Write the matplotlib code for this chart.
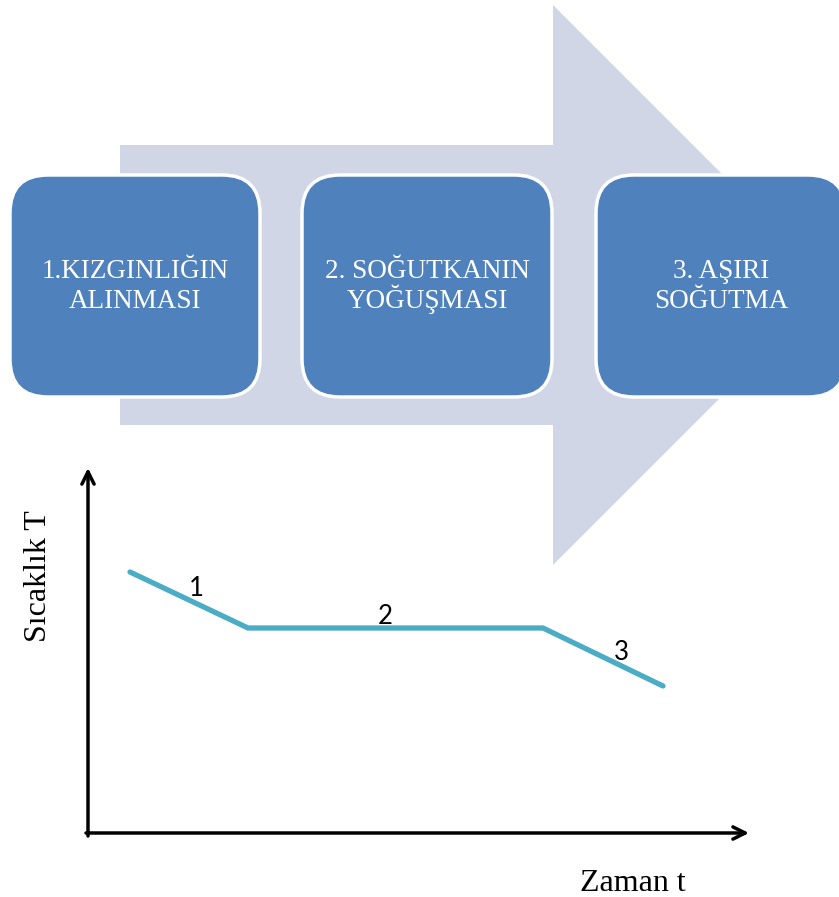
import matplotlib.pyplot as plt
from matplotlib.patches import Polygon, FancyBboxPatch

# process steps shown in the boxes (two lines each)
steps = [("1.KIZGINLIĞIN", "ALINMASI"),
         ("2. SOĞUTKANIN", "YOĞUŞMASI"),
         ("3. AŞIRI", "SOĞUTMA")]

# temperature curve (image coords, y grows downward)
curve_t = [130, 248, 543, 663]
curve_T = [572, 628, 628, 686]
seg_labels = ["1", "2", "3"]
seg_label_x = [196, 385, 621]
seg_label_y = [588, 617, 653]

W, H = 839, 897
fig = plt.figure(figsize=(W / 100, H / 100), dpi=100)
ax = fig.add_axes([0, 0, 1, 1])
ax.set_xlim(0, W)
ax.set_ylim(H, 0)
ax.axis("off")

# big background arrow
arrow_pts = [(120, 145), (553, 145), (553, 5), (833, 285),
             (553, 565), (553, 425), (120, 425)]
ax.add_patch(Polygon(arrow_pts, closed=True, facecolor="#d0d6e6",
                     edgecolor="none", zorder=1))

# rounded step boxes
box_x = [10, 302, 596]
box_w = 250
for x0, (l1, l2) in zip(box_x, steps):
    ax.add_patch(FancyBboxPatch((x0, 175), box_w, 222,
                                boxstyle="round,pad=0,rounding_size=38",
                                facecolor="#4f81bd", edgecolor="white",
                                linewidth=2.5, zorder=2))
    cx = x0 + box_w / 2
    for txt, yb in [(l1, 278), (l2, 308)]:
        ax.text(cx, yb, txt, ha="center", va="baseline", color="white",
                family="Liberation Serif", fontsize=19.5, zorder=3)

# axes arrows
ax.annotate("", xy=(88, 468), xytext=(88, 836),
            arrowprops=dict(arrowstyle="->", lw=2.5, color="black",
                            mutation_scale=22, shrinkA=0, shrinkB=0))
ax.annotate("", xy=(749, 833), xytext=(86, 833),
            arrowprops=dict(arrowstyle="->", lw=2.5, color="black",
                            mutation_scale=22, shrinkA=0, shrinkB=0))

ax.plot(curve_t, curve_T, color="#4bacc6", lw=3.8, solid_capstyle="round",
        solid_joinstyle="miter", zorder=4)
for lab, lx, ly in zip(seg_labels, seg_label_x, seg_label_y):
    ax.text(lx, ly, lab, ha="center", va="center", family="Lato",
            fontsize=18.5, zorder=5)

ax.text(38, 576, "Sıcaklık T", rotation=90, ha="center", va="center",
        family="Liberation Serif", fontsize=23)
ax.text(633, 891, "Zaman t", ha="center", va="baseline",
        family="Liberation Serif", fontsize=23)

fig.savefig("out.png", dpi=100)
